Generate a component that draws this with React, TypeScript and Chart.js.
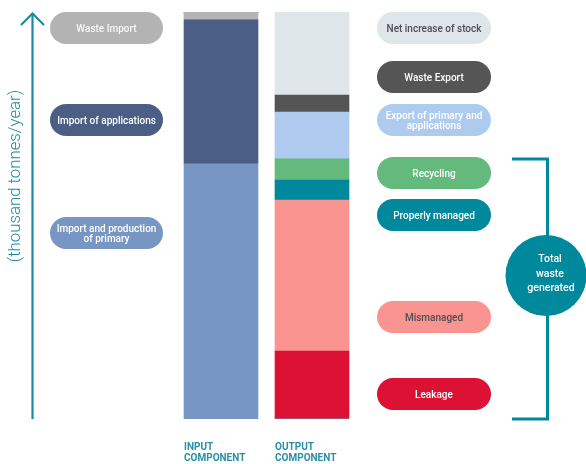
import React, { useEffect, useRef } from "react";
import { Chart, registerables } from "chart.js";

Chart.register(...registerables);

const categories = ["INPUT COMPONENT", "OUTPUT COMPONENT"];

// stacked segments, bottom to top (share of total flow, %)
const seriesNames = [
  "Import and production of primary",
  "Import of applications",
  "Waste Import",
  "Leakage",
  "Mismanaged",
  "Properly managed",
  "Recycling",
  "Export of primary and applications",
  "Waste Export",
  "Net increase of stock",
];
const primaryValues = [62.7, 0];
const applicationsValues = [35.4, 0];
const wasteImportValues = [1.9, 0];
const leakageValues = [0, 16.7];
const mismanagedValues = [0, 37.1];
const properlyManagedValues = [0, 4.9];
const recyclingValues = [0, 5.2];
const exportValues = [0, 11.5];
const wasteExportValues = [0, 4.2];
const stockValues = [0, 20.4];

const yAxisTitle = "(thousand tonnes/year)";
const totalLabel = ["Total", "waste", "generated"];

const seriesValues = [
  primaryValues,
  applicationsValues,
  wasteImportValues,
  leakageValues,
  mismanagedValues,
  properlyManagedValues,
  recyclingValues,
  exportValues,
  wasteExportValues,
  stockValues,
];
const seriesColors = [
  "#7896c4",
  "#4a5e86",
  "#b3b3b3",
  "#dd1133",
  "#fa9490",
  "#00889c",
  "#64ba7c",
  "#aecbef",
  "#555555",
  "#dee6ea",
];

type Pill = { text: string[]; x: number; w: number; y: number; bg: string; fg: string };
const pills: Pill[] = [
  { text: ["Waste Import"], x: 50, w: 113, y: 28, bg: "#b3b3b3", fg: "rgba(255,255,255,0.9)" },
  { text: ["Import of applications"], x: 50, w: 113, y: 120, bg: "#4a5e86", fg: "#ffffff" },
  { text: ["Import and production", "of primary"], x: 50, w: 113, y: 233, bg: "#7896c4", fg: "#ffffff" },
  { text: ["Net increase of stock"], x: 377, w: 114, y: 28, bg: "#dee6ea", fg: "#4d4d55" },
  { text: ["Waste Export"], x: 377, w: 114, y: 77, bg: "#555555", fg: "#ffffff" },
  { text: ["Export of primary and", "applications"], x: 377, w: 114, y: 120, bg: "#aecbef", fg: "#ffffff" },
  { text: ["Recycling"], x: 377, w: 114, y: 173, bg: "#64ba7c", fg: "#ffffff" },
  { text: ["Properly managed"], x: 377, w: 114, y: 215, bg: "#00889c", fg: "#ffffff" },
  { text: ["Mismanaged"], x: 377, w: 114, y: 317, bg: "#fa9490", fg: "#4d4d55" },
  { text: ["Leakage"], x: 377, w: 114, y: 394, bg: "#dd1133", fg: "#ffffff" },
];

const TEAL = "#1a8aa0";

const decorPlugin = {
  id: "decor",
  afterDraw(chart: any) {
    const ctx = chart.ctx as CanvasRenderingContext2D;
    const area = chart.chartArea;
    ctx.save();

    // y axis arrow
    ctx.strokeStyle = TEAL;
    ctx.lineWidth = 2.2;
    ctx.beginPath();
    ctx.moveTo(32.5, area.bottom);
    ctx.lineTo(32.5, 13);
    ctx.stroke();
    ctx.beginPath();
    ctx.moveTo(21, 25);
    ctx.lineTo(32.5, 13.5);
    ctx.lineTo(44, 25);
    ctx.stroke();

    // axis title
    ctx.save();
    ctx.translate(16, 176);
    ctx.rotate(-Math.PI / 2);
    ctx.fillStyle = TEAL;
    ctx.font = "300 16.8px Roboto";
    ctx.textAlign = "center";
    ctx.textBaseline = "middle";
    ctx.fillText(yAxisTitle, 0, 0);
    ctx.restore();

    // pills
    for (const p of pills) {
      const h = 32;
      const r = 16;
      const top = p.y - h / 2;
      ctx.fillStyle = p.bg;
      ctx.beginPath();
      ctx.moveTo(p.x + r, top);
      ctx.lineTo(p.x + p.w - r, top);
      ctx.arc(p.x + p.w - r, p.y, r, -Math.PI / 2, Math.PI / 2);
      ctx.lineTo(p.x + r, top + h);
      ctx.arc(p.x + r, p.y, r, Math.PI / 2, (3 * Math.PI) / 2);
      ctx.closePath();
      ctx.fill();
      ctx.fillStyle = p.fg;
      ctx.font = "500 10px Roboto";
      ctx.textAlign = "center";
      ctx.textBaseline = "middle";
      const cx = p.x + p.w / 2;
      if (p.text.length === 1) {
        ctx.fillText(p.text[0], cx, p.y + 1.5);
      } else {
        ctx.fillText(p.text[0], cx, p.y - 3.5);
        ctx.fillText(p.text[1], cx, p.y + 6);
      }
    }

    // bracket
    ctx.strokeStyle = "#00889c";
    ctx.lineWidth = 3;
    ctx.beginPath();
    ctx.moveTo(512, 159);
    ctx.lineTo(547.5, 159);
    ctx.lineTo(547.5, 419);
    ctx.lineTo(512, 419);
    ctx.stroke();

    // circle
    ctx.fillStyle = "#00889c";
    ctx.beginPath();
    ctx.arc(546, 275.5, 40.5, 0, Math.PI * 2);
    ctx.fill();
    ctx.fillStyle = "#ffffff";
    ctx.font = "500 10.5px Roboto";
    ctx.textAlign = "center";
    ctx.textBaseline = "middle";
    ctx.fillText(totalLabel[0], 550, 259);
    ctx.fillText(totalLabel[1], 550, 274);
    ctx.fillText(totalLabel[2], 551, 288.5);

    // category labels
    const meta = chart.getDatasetMeta(0);
    ctx.fillStyle = "#2a8fa8";
    ctx.font = "bold 10px Roboto";
    ctx.textAlign = "left";
    ctx.textBaseline = "middle";
    categories.forEach((c, i) => {
      const el = meta.data[i] as any;
      const left = el.x - el.width / 2;
      const parts = c.split(" ");
      ctx.fillText(parts[0], left, 447);
      ctx.fillText(parts[1], left, 458);
    });

    ctx.restore();
  },
};

export default function App() {
  const ref = useRef<HTMLCanvasElement>(null);
  useEffect(() => {
    if (!ref.current) return;
    const chart = new Chart(ref.current, {
      type: "bar",
      data: {
        labels: categories,
        datasets: seriesNames.map((name, i) => ({
          label: name,
          data: seriesValues[i],
          backgroundColor: seriesColors[i],
          borderWidth: 0,
          barThickness: 74,
        })),
      },
      options: {
        animation: false,
        responsive: false,
        maintainAspectRatio: false,
        layout: { padding: { left: 175.5, right: 228.5, top: 12, bottom: 45 } },
        plugins: { legend: { display: false }, tooltip: { enabled: false } },
        scales: {
          x: { stacked: true, display: false },
          y: { stacked: true, display: false, min: 0, max: 100 },
        },
      },
      plugins: [decorPlugin],
    });
    return () => chart.destroy();
  }, []);
  return (
    <div style={{ position: "fixed", left: 0, top: 0, width: 586, height: 464, background: "#fff" }}>
      <canvas ref={ref} width={586} height={464} style={{ width: 586, height: 464 }} />
    </div>
  );
}
